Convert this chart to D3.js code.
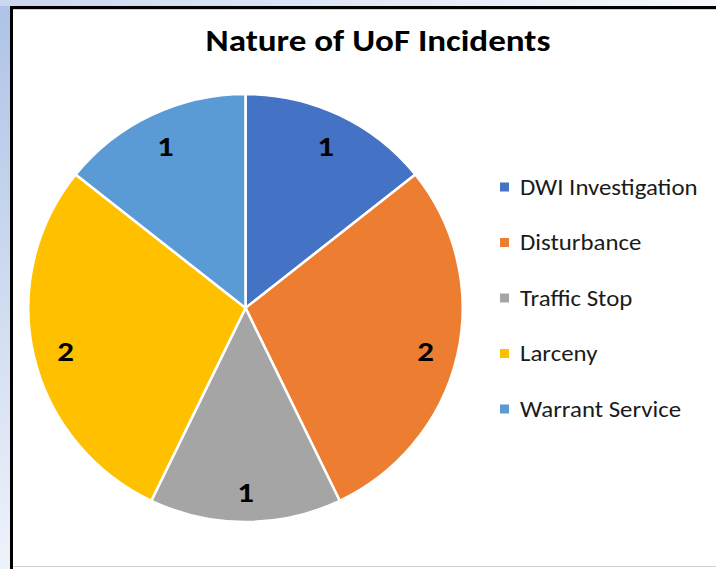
<!DOCTYPE html>
<html>
<head>
<meta charset="utf-8">
<script src="https://cdn.jsdelivr.net/npm/d3@7"></script>
<style>
  html, body { margin: 0; padding: 0; background: #fff; }
  svg { display: block; }
</style>
</head>
<body>
<svg id="chart" width="716" height="569"></svg>
<script>
// incident categories and counts
const categories = ["DWI Investigation", "Disturbance", "Traffic Stop", "Larceny", "Warrant Service"];
const counts = [1, 2, 1, 2, 1];
const colors = ["#4472C4", "#ED7D31", "#A5A5A5", "#FFC000", "#5B9BD5"];
const title = "Nature of UoF Incidents";

const width = 716, height = 569;
const cx = 245.5, cy = 308, radius = 214;
const font = "Carlito, Calibri, 'Open Sans', 'Noto Sans', sans-serif";
// the picture is stretched a little sideways, so text gets a horizontal scale
const stretch = 1.15;

const svg = d3.select("#chart");

// slide background strips showing round the chart frame
const defs = svg.append("defs");
const leftGrad = defs.append("linearGradient").attr("id", "leftGrad")
  .attr("x1", 0).attr("y1", 0).attr("x2", 0).attr("y2", 1);
leftGrad.append("stop").attr("offset", "0%").attr("stop-color", "#aec3e6");
leftGrad.append("stop").attr("offset", "100%").attr("stop-color", "#eef2fa");
const topGrad = defs.append("linearGradient").attr("id", "topGrad");
topGrad.append("stop").attr("offset", "0%").attr("stop-color", "#c9d7ef");
topGrad.append("stop").attr("offset", "100%").attr("stop-color", "#f6f8fd");

svg.append("rect").attr("x", 0).attr("y", 0).attr("width", 10).attr("height", height)
  .attr("fill", "url(#leftGrad)");
svg.append("rect").attr("x", 0).attr("y", 0).attr("width", width).attr("height", 6)
  .attr("fill", "url(#topGrad)");

// frame
svg.append("rect").attr("x", 10).attr("y", 6).attr("width", width - 10).attr("height", 3).attr("fill", "#000");
svg.append("rect").attr("x", 10).attr("y", 6).attr("width", 3).attr("height", height - 6).attr("fill", "#000");
svg.append("rect").attr("x", 13).attr("y", 9).attr("width", width - 13).attr("height", 1).attr("fill", "#d0d0d0");
svg.append("rect").attr("x", 13).attr("y", 566).attr("width", width - 13).attr("height", 1).attr("fill", "#d0d0d0");

svg.append("text")
  .attr("transform", `translate(378,51) scale(${stretch},1)`)
  .attr("text-anchor", "middle")
  .attr("font-family", font)
  .attr("font-size", 30.5)
  .attr("font-weight", "bold")
  .attr("fill", "#000")
  .text(title);

const data = categories.map((c, i) => ({ name: c, value: counts[i], color: colors[i] }));

const pie = d3.pie().value(d => d.value).sort(null);
const arc = d3.arc().innerRadius(0).outerRadius(radius);
const labelArc = d3.arc().innerRadius(radius * 0.85).outerRadius(radius * 0.85);

const g = svg.append("g").attr("transform", `translate(${cx},${cy}) scale(1.015,1)`);
const slices = pie(data);

g.selectAll("path")
  .data(slices)
  .join("path")
  .attr("d", arc)
  .attr("fill", d => d.data.color)
  .attr("stroke", "#fff")
  .attr("stroke-width", 2.5);

g.selectAll("text")
  .data(slices)
  .join("text")
  .attr("transform", d => `translate(${labelArc.centroid(d)}) scale(1.12,1)`)
  .attr("text-anchor", "middle")
  .attr("dy", "0.42em")
  .attr("font-family", font)
  .attr("font-size", 29)
  .attr("font-weight", "bold")
  .attr("fill", "#000")
  .text(d => d.data.value);

// legend
const legend = svg.append("g").attr("transform", "translate(500,187)");
const row = legend.selectAll("g")
  .data(data)
  .join("g")
  .attr("transform", (d, i) => `translate(0,${i * 55.5})`);
row.append("rect")
  .attr("x", 0).attr("y", -4.5)
  .attr("width", 9).attr("height", 9)
  .attr("fill", d => d.color);
row.append("text")
  .attr("transform", `translate(20,0) scale(1.13,1)`)
  .attr("dy", "0.35em")
  .attr("font-family", font)
  .attr("font-size", 22)
  .attr("fill", "#1a1a1a")
  .text(d => d.name);
</script>
</body>
</html>
